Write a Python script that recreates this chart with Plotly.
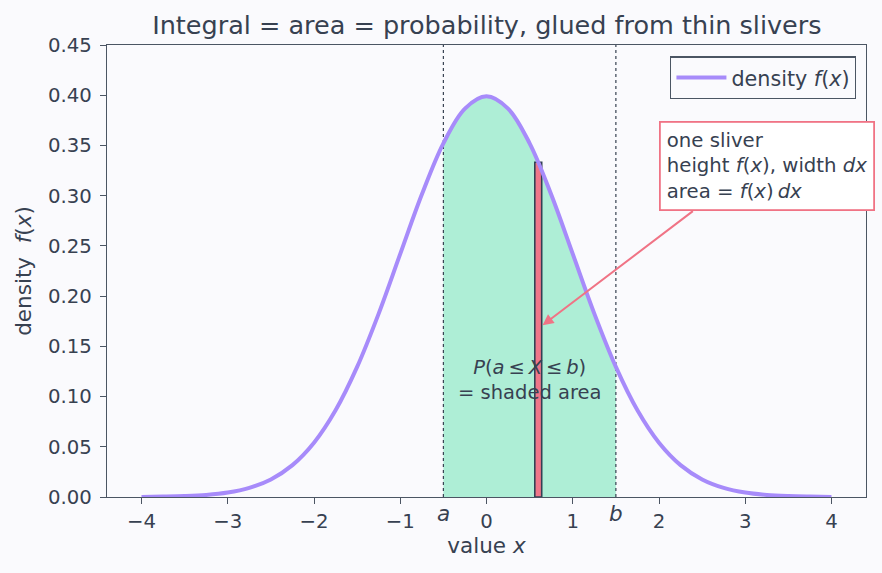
import plotly.graph_objects as go

# density values (standard normal shape), x step 0.25
x_vals = [-4.0, -3.75, -3.5, -3.25, -3.0, -2.75, -2.5, -2.25, -2.0, -1.75, -1.5, -1.25, -1.0, -0.75, -0.5, -0.25,
          0.0, 0.25, 0.5, 0.75, 1.0, 1.25, 1.5, 1.75, 2.0, 2.25, 2.5, 2.75, 3.0, 3.25, 3.5, 3.75, 4.0]
half = [0.3989, 0.3867, 0.3521, 0.3011, 0.2420, 0.1826, 0.1295, 0.0863, 0.0540, 0.0317, 0.0175,
        0.0091, 0.0044, 0.0020, 0.0009, 0.0004, 0.0001]
f_vals = half[::-1] + half[1:]

a_val = -0.5
b_val = 1.5
sliver_x = 0.6
sliver_dx = 0.08
sliver_h = 0.3332

x_ticks = [-4, -3, -2, -1, 0, 1, 2, 3, 4]
y_ticks = [0.0, 0.05, 0.10, 0.15, 0.20, 0.25, 0.30, 0.35, 0.40, 0.45]

TXT = "#374151"
AX = "#4b5563"
BG = "#fafafd"
FONT = "DejaVu Sans"

fig = go.Figure()

# shaded area a..b
fx = [x for x in x_vals if a_val <= x <= b_val]
fy = [y for x, y in zip(x_vals, f_vals) if a_val <= x <= b_val]
fig.add_trace(go.Scatter(x=fx, y=fy, mode="lines", line=dict(width=0, shape="spline"),
                         fill="tozeroy", fillcolor="#aeeed6", showlegend=False, hoverinfo="skip"))

# sliver
sl = sliver_x - sliver_dx / 2
sr = sliver_x + sliver_dx / 2
fig.add_trace(go.Scatter(x=[sl, sl, sr, sr, sl], y=[0, sliver_h, sliver_h, 0, 0], mode="lines",
                         fill="toself", fillcolor="#ef7689", line=dict(color="#334155", width=1.6),
                         showlegend=False, hoverinfo="skip"))

# a and b dotted lines
for v in (a_val, b_val):
    fig.add_trace(go.Scatter(x=[v, v], y=[0, 0.45], mode="lines",
                             line=dict(color="#374151", width=1.2, dash="dot"),
                             showlegend=False, hoverinfo="skip"))

# density curve
fig.add_trace(go.Scatter(x=x_vals, y=f_vals, mode="lines", name="density <i>f</i>(<i>x</i>)",
                         line=dict(color="#a78bfa", width=4, shape="spline")))

# annotation box
fig.add_annotation(x=2.0, y=0.3291, xref="x", yref="y", xanchor="left", yanchor="middle",
                   text="one sliver<br>height <i>f</i>(<i>x</i>), width <i>dx</i><br>area = <i>f</i>(<i>x</i>)\u2009<i>dx</i>",
                   align="left", showarrow=False, font=dict(family=FONT, size=19.7, color=TXT),
                   bgcolor="white", bordercolor="#f07385", borderwidth=1.8, borderpad=6)
# arrow
fig.add_annotation(x=sliver_x + sliver_dx / 2 + 0.01, y=0.171, xref="x", yref="y",
                   ax=2.41, ay=0.2857, axref="x", ayref="y", text="", showarrow=True,
                   arrowhead=2, arrowsize=1.1, arrowwidth=2, arrowcolor="#f07385")

# P(a<=X<=b) text
fig.add_annotation(x=0.5, y=0.116, xref="x", yref="y", showarrow=False,
                   text="<i>P</i>(<i>a</i>\u2009\u2264\u2009<i>X</i>\u2009\u2264\u2009<i>b</i>)<br>= shaded area",
                   font=dict(family=FONT, size=19.5, color=TXT), align="center")

# a, b labels
for v, lab in ((a_val, "a"), (b_val, "b")):
    fig.add_annotation(x=v, y=-0.0686, xref="x", yref="paper", showarrow=False,
                       text="<i>%s</i>" % lab, font=dict(family=FONT, size=21.5, color=TXT))

fig.update_layout(
    width=882, height=573,
    margin=dict(l=107, r=16, t=45, b=76),
    paper_bgcolor=BG, plot_bgcolor=BG,
    font=dict(family=FONT, size=19.7, color=TXT),
    title=dict(text="Integral = area = probability, glued from thin slivers", x=0.552, xanchor="center",
               y=0.957, yanchor="middle", font=dict(family=FONT, size=25.5, color=TXT)),
    legend=dict(x=0.987, y=0.975, xanchor="right", yanchor="top", bgcolor=BG, itemwidth=50,
                bordercolor=AX, borderwidth=1.3, font=dict(family=FONT, size=20.7, color=TXT)),
    showlegend=True,
)
fig.update_xaxes(range=[-4.4, 4.4], tickvals=x_ticks, ticktext=["\u2212%d" % -t if t < 0 else str(t) for t in x_ticks],
                 showgrid=False, zeroline=False, showline=True, linecolor=AX, linewidth=1.3, mirror=True,
                 ticks="outside", ticklen=6, tickcolor=AX, tickwidth=1.3, tickfont=dict(size=19.7),
                 title=dict(text="value <i>x</i>", standoff=6, font=dict(size=21.5)))
fig.update_yaxes(range=[0, 0.45], tickvals=y_ticks, tickformat=".2f",
                 showgrid=False, zeroline=False, showline=True, linecolor=AX, linewidth=1.3, mirror=True,
                 ticks="outside", ticklen=6, tickcolor=AX, tickwidth=1.3, tickfont=dict(size=19.7),
                 ticklabelstandoff=4,
                 title=dict(text="density  <i>f</i>(<i>x</i>)", standoff=10, font=dict(size=21.5)))

fig.write_html("out.html")
